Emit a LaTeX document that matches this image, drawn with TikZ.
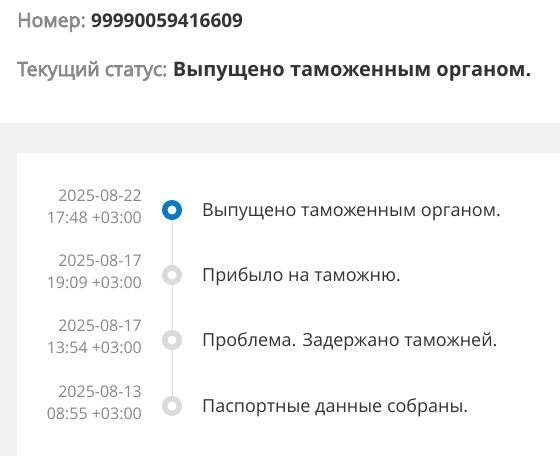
\documentclass[tikz,border=0pt]{standalone}
\usepackage{fontspec}
\setmainfont{Open Sans}
\newfontfamily\semibold[FakeBold=3.5]{Open Sans}
\usetikzlibrary{positioning}
\definecolor{pagegray}{HTML}{F2F2F2}
\definecolor{labelgray}{HTML}{888888}
\definecolor{textdark}{HTML}{333333}
\definecolor{dotblue}{HTML}{0A7BC2}
\definecolor{dotgray}{HTML}{DADADA}
\tikzset{
  head/.style={anchor=base west, inner sep=0pt, text=labelgray, font=\fontsize{19.5}{23}\semibold},
  headval/.style={anchor=base west, inner sep=0pt, text=textdark, font=\fontsize{19}{23}\selectfont\bfseries},
  stamp/.style={anchor=base east, inner sep=0pt, text=labelgray, font=\fontsize{16}{20}\selectfont},
  event/.style={anchor=base west, inner sep=0pt, text=textdark, font=\fontsize{18}{22}\selectfont},
  dot/.style={circle, draw=dotgray, fill=white, line width=5.5pt, minimum size=14.5pt, inner sep=0pt},
  dotnow/.style={dot, draw=dotblue},
}

\begin{document}
\begin{tikzpicture}[x=1pt, y=-1pt]
    \useasboundingbox (0,0) rectangle (560,456);
    \fill[pagegray] (0,123) rectangle (560,456);
    \fill[white] (17,153) rectangle (560,456);
    % header
    \node[head] (numlabel) at (17,27) {Номер:};
    \node[headval, right=5pt of numlabel.base east, anchor=base west] (num) {99990059416609};
    \node[head] (statlabel) at (17,76) {Текущий статус:};
    \node[headval, font=\fontsize{20}{24}\selectfont\bfseries, right=5pt of statlabel.base east, anchor=base west] (stat) {Выпущено таможенным органом.};
    % timeline
    \node[dotnow] (ev1) at (172,210) {};
    \node[dot] (ev2) at (172,275) {};
    \node[dot] (ev3) at (172,340) {};
    \node[dot] (ev4) at (172,406) {};
    \foreach \a/\b in {ev1/ev2, ev2/ev3, ev3/ev4}
      \draw[dotgray, line width=1pt] (\a.south) -- (\b.north);
    \foreach \e/\d/\t/\msg in {ev1/2025-08-22/17:48/Выпущено таможенным органом.,
                               ev2/2025-08-17/19:09/Прибыло на таможню.,
                               ev3/2025-08-17/13:54/Проблема. Задержано таможней.,
                               ev4/2025-08-13/08:55/Паспортные данные собраны.}{
      \node[stamp] (\e date) at ([xshift=-30pt, yshift=9pt]\e.center) {\d};
      \node[stamp] (\e time) at ([xshift=-30pt, yshift=-13pt]\e.center) {\t\ +03:00};
      \node[event] (\e text) at ([xshift=30pt, yshift=-6.5pt]\e.center) {\msg};
    }
\end{tikzpicture}
\end{document}
